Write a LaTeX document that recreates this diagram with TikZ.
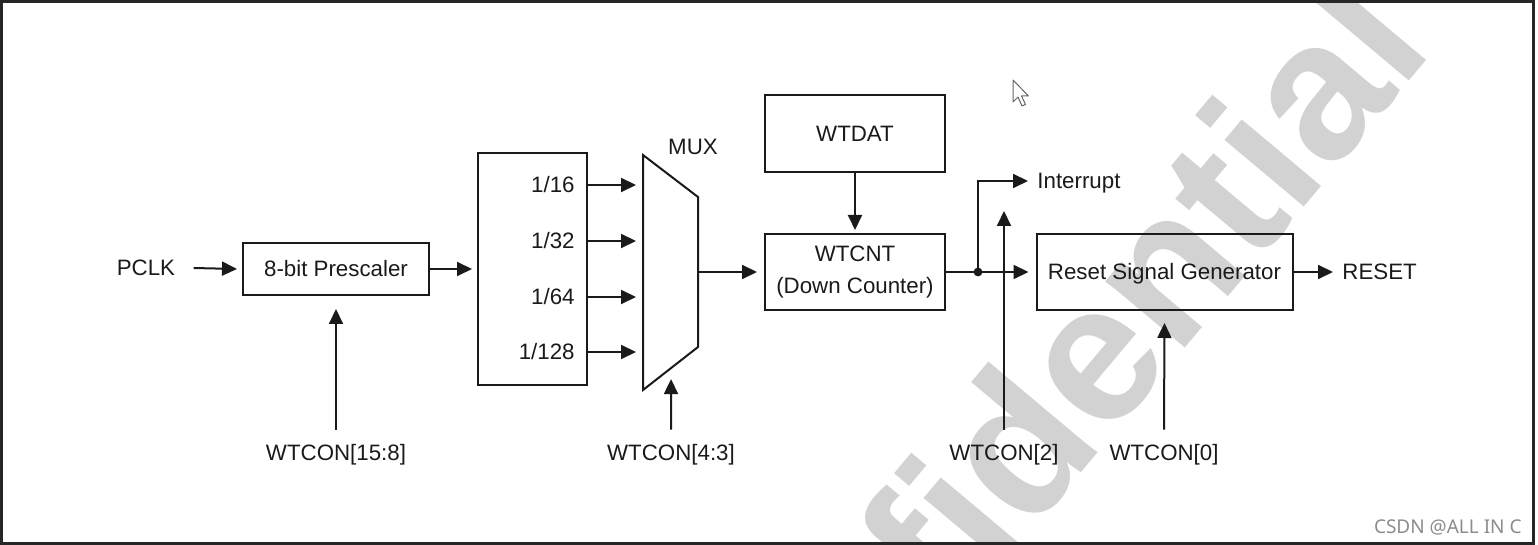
\documentclass[tikz,border=0pt]{standalone}
\usepackage{fontspec}
\setmainfont{Liberation Sans}
\newfontfamily\csdnfont{Noto Sans}
\usetikzlibrary{arrows.meta,calc}
\definecolor{ink}{HTML}{1A1A1A}
\definecolor{wmark}{HTML}{D2D2D2}
\begin{document}
\begin{tikzpicture}[x=0.5pt,y=-0.5pt,
  font=\fontsize{11.15}{16}\selectfont,
  every node/.style={text=ink},
  box/.style={draw=ink,line width=1pt,inner sep=0pt,text height=8pt,text depth=0pt},
  lbl/.style={inner sep=0pt,text height=8pt,text depth=0pt},
  arr/.style={draw=ink,line width=1pt,-{Triangle[length=7.5pt,width=7pt]}},
  wire/.style={draw=ink,line width=1pt},
]
\useasboundingbox (0,0) rectangle (1538,545);
% watermark
\begin{scope}
  \clip (2,2) rectangle (1533,542);
  \node[rotate=50,anchor=base east,font=\fontsize{98}{98}\selectfont\bfseries,text=wmark,inner sep=0pt] (wm) at (1436,50) {fidential};
\end{scope}
% frame
\draw[line width=1.5pt,black!85] (1.5,1.5) rectangle (1533,543);

% blocks
\node[lbl] (pclk) at (146,268) {PCLK};
\node[box,minimum width=93pt,minimum height=26pt] (pre) at (336,269) {8-bit Prescaler};
\node[draw=ink,line width=1pt,inner sep=0pt,minimum width=54.5pt,minimum height=116pt] (div) at (532.5,269) {};
\node[lbl,anchor=east] (d16) at (575,185) {1/16};
\node[lbl,anchor=east] (d32) at (575,241) {1/32};
\node[lbl,anchor=east] (d64) at (575,297) {1/64};
\node[lbl,anchor=east] (d128) at (575,352) {1/128};

\coordinate (mtl) at (643,155);
\coordinate (mbl) at (643,390);
\coordinate (mtr) at (698,197);
\coordinate (mbr) at (698,347);
\coordinate (muxout) at (698,272);
\coordinate (muxin) at (643,272);
\coordinate (mbot) at ($(mbl)!0.51!(mbr)$);
\draw[wire] (mtl) -- (mtr) -- (mbr) -- (mbl) -- cycle;
\node[lbl] (muxlbl) at (693,147) {MUX};

\node[box,minimum width=90pt,minimum height=38.5pt] (wtdat) at (855,133.5) {WTDAT};
\node[draw=ink,line width=1pt,inner sep=0pt,minimum width=90pt,minimum height=38pt,align=center] (wtcnt) at (855,272) {WTCNT\\(Down Counter)};
\node[box,minimum width=128pt,minimum height=38pt] (rsg) at (1164.5,272) {Reset Signal Generator};
\node[lbl,anchor=west] (intr) at (1037,181) {Interrupt};
\node[lbl,anchor=west] (rst) at (1342,272) {RESET};

\node[lbl] (w158) at (336,452) {WTCON[15:8]};
\node[lbl] (w43) at (671,452) {WTCON[4:3]};
\node[lbl] (w2) at (1004,452) {WTCON[2]};
\node[lbl] (w0) at (1164,452) {WTCON[0]};

\coordinate (jn) at (978,272);
\coordinate (w2tip) at (1004,211);

% connectors
\draw[arr] ([xshift=9pt]pclk.east) -- ([xshift=-2.5pt]pre.west);
\draw[arr] (pre.east) -- ([xshift=-2.5pt]div.west);
\foreach \d in {d16,d32,d64,d128}{
  \draw[arr] (div.east |- \d.east) -- ([xshift=-3.5pt]muxin |- \d.east);
}
\draw[arr] (muxout) -- ([xshift=-3.5pt]wtcnt.west);
\draw[arr] (wtdat.south) -- ([yshift=1.5pt]wtcnt.north);
\draw[arr] (wtcnt.east) -- ([xshift=-3.5pt]rsg.west);
\draw[arr] (jn) |- ([xshift=-4.5pt]intr.west);
\fill[ink] (jn) circle (2.2pt);
\draw[arr] (rsg.east) -- ([xshift=-4.5pt]rst.west);
\draw[arr] ([yshift=7pt]w158.north) -- ([yshift=-6.5pt]pre.south);
\draw[arr] ([yshift=7pt]w43.north) -- ([yshift=-5.5pt]mbot);
\draw[arr] ([yshift=7pt]w2.north) -- (w2tip);
\draw[arr] ([yshift=7pt]w0.north) -- ([yshift=-6pt]rsg.south);

% cursor
\draw[black!60,fill=white,line width=0.5pt,line join=round] (1013,80) -- ++(0,22) -- ++(5,-5) -- ++(4,9) -- ++(3.5,-1.5) -- ++(-4,-8.5) -- ++(7,0) -- cycle;

% credit
\node[anchor=east,inner sep=0pt,text=black!45,font=\csdnfont\fontsize{9.5}{10}\selectfont] (csdn) at (1522,527) {CSDN @ALL IN C};
\end{tikzpicture}
\end{document}
